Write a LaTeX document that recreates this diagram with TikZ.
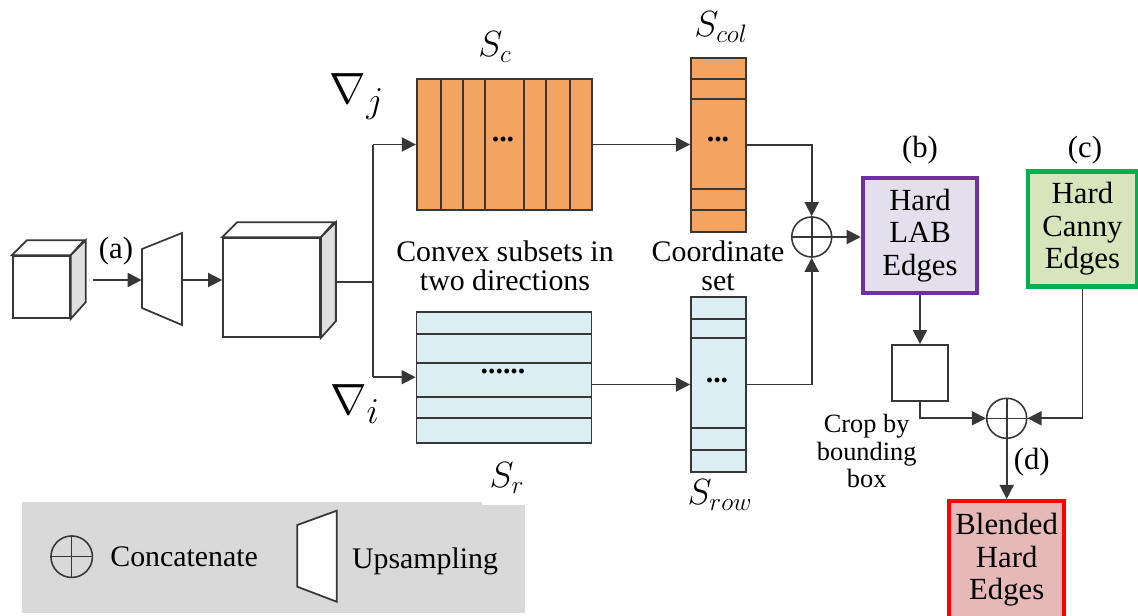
\documentclass[tikz,border=0pt]{standalone}
\usepackage{fontspec}
\setmainfont{LiberationSerif}[Extension=.ttf, UprightFont=*-Regular, BoldFont=*-Bold, ItalicFont=*-Italic, BoldItalicFont=*-BoldItalic]
\usetikzlibrary{arrows.meta}
\definecolor{orangefill}{RGB}{245,163,96}
\definecolor{bluefill}{RGB}{218,238,243}
\definecolor{labfill}{RGB}{228,223,236}
\definecolor{labborder}{RGB}{112,48,160}
\definecolor{cannyfill}{RGB}{216,228,188}
\definecolor{cannyborder}{RGB}{0,176,80}
\definecolor{blendfill}{RGB}{230,185,184}
\definecolor{blendborder}{RGB}{255,0,0}
\definecolor{legendgray}{RGB}{217,217,217}
\definecolor{sidegray}{RGB}{224,224,224}
\definecolor{linecol}{RGB}{55,55,55}
\begin{document}
\begin{tikzpicture}[x=0.02cm,y=-0.02cm,
  ln/.style={draw=linecol, line width=1pt},
  arr/.style={ln, -{Triangle[length=8pt,width=8pt]}},
  txt/.style={font=\fontsize{17}{16.5}\selectfont, align=center, inner sep=0pt},
  lbl/.style={font=\fontsize{17.5}{20}\selectfont, inner sep=0pt},
  mlbl/.style={font=\fontsize{22}{26}\selectfont, inner sep=0pt},
  nlbl/.style={font=\fontsize{28}{32}\selectfont, inner sep=0pt},
  blockbox/.style={draw=linecol, line width=1pt, inner sep=0pt},
  cbox/.style={line width=2.3pt, align=center, inner sep=0pt, font=\fontsize{17.5}{18.5}\selectfont},
  cplus/.style={circle, draw=linecol, line width=0.9pt, minimum size=0.8cm, inner sep=0pt},
  dots/.style={font=\fontsize{17}{20}\selectfont\bfseries, inner sep=0pt}
]
\useasboundingbox (0,0) rectangle (1138,615);

% ---------- small cube ----------
\node[blockbox, fill=white, minimum width=1.14cm, minimum height=1.24cm] (cs) at (41.35,287) {};
\draw[ln, fill=white] (cs.north west) -- ++(15,-15) -- ++(57.3,0) -- (cs.north east) -- cycle;
\draw[ln, fill=sidegray] (cs.north east) -- ++(15,-15) -- ++(0,62) -- (cs.south east) -- cycle;

% ---------- upsampling trapezoid ----------
\draw[ln, fill=white] (142,249) -- (182,233) -- (182,325) -- (142,308) -- cycle;
\node[minimum width=0.8cm, minimum height=1.1cm, inner sep=0pt] (up) at (162,280) {};

% ---------- big cube ----------
\node[blockbox, fill=white, minimum width=1.94cm, minimum height=1.98cm] (cb) at (271.5,287.5) {};
\draw[ln, fill=white] (cb.north west) -- ++(15,-15) -- ++(97,0) -- (cb.north east) -- cycle;
\draw[ln, fill=sidegray] (cb.north east) -- ++(15,-15) -- ++(0,99) -- (cb.south east) -- cycle;

\coordinate (a0) at (93,280);
\coordinate (cbR) at (335,282);
\coordinate (sp) at (373,282);

% ---------- S_c block ----------
\node[blockbox, fill=orangefill, minimum width=3.5cm, minimum height=2.62cm] (Sc) at (504.2,144.5) {};
\foreach \x in {440.7,462.7,485,524,546,570} \draw[ln] (\x,79) -- (\x,210);
\node[dots] (scdots) at (503,140) {...};

% ---------- S_r block ----------
\node[blockbox, fill=bluefill, minimum width=3.5cm, minimum height=2.62cm] (Sr) at (504,377.2) {};
\foreach \y in {334,363,397,418} \draw[ln] (416.7,\y) -- (591.3,\y);
\node[dots] (srdots) at (503,371) {......};

% ---------- S_col column ----------
\node[blockbox, fill=orangefill, minimum width=1.1cm, minimum height=3.48cm] (Scol) at (718.4,145) {};
\foreach \y in {79,99,189,210} \draw[ln] (690.9,\y) -- (745.9,\y);
\node[dots] (scoldots) at (718,140) {...};

% ---------- S_row column ----------
\node[blockbox, fill=bluefill, minimum width=1.1cm, minimum height=3.5cm] (Srow) at (718.4,384.5) {};
\foreach \y in {319,338,428,450} \draw[ln] (690.9,\y) -- (745.9,\y);
\node[dots] (srowdots) at (717,380) {...};

% ---------- concatenations ----------
\node[cplus] (c1) at (811.7,237) {};
\draw[draw=linecol, line width=0.9pt] (c1.north) -- (c1.south) (c1.west) -- (c1.east);
\node[cplus] (c2) at (1006.7,418.3) {};
\draw[draw=linecol, line width=0.9pt] (c2.north) -- (c2.south) (c2.west) -- (c2.east);

% ---------- coloured boxes ----------
\node[cbox, draw=labborder, fill=labfill, minimum width=2.29cm, minimum height=2.31cm] (lab) at (920,235.4) {Hard\\LAB\\Edges};
\node[cbox, draw=cannyborder, fill=cannyfill, minimum width=2.17cm, minimum height=2.3cm] (canny) at (1082.4,229) {Hard\\Canny\\Edges};
\node[blockbox, fill=white, minimum width=1.13cm, minimum height=1.12cm] (crop) at (920,373) {};
\node[cbox, draw=blendborder, fill=blendfill, minimum width=2.3cm, minimum height=2.36cm] (blend) at (1006.7,560) {Blended\\Hard\\Edges};

% ---------- connectors ----------
\draw[arr] (a0) -- (up.west);
\draw[arr] (up.east) -- (up.east -| cb.west);
\draw[ln] (cbR) -- (sp);
\draw[ln] (sp |- Sc.west) -- (sp |- Sr.west);
\draw[arr] (sp |- Sc.west) -- (Sc.west);
\draw[arr] (sp |- Sr.west) -- (Sr.west);
\draw[arr] (Sc.east) -- (Sc.east -| Scol.west);
\draw[arr] (Srow.west -| Sr.east) -- (Srow.west);
\draw[arr] (Scol.east) -| (c1.north);
\draw[arr] (Srow.east) -| (c1.south);
\draw[arr] (c1.east) -- (c1.east -| lab.west);
\draw[arr] (lab.south) -- (crop.north);
\draw[arr] (crop.south) |- (c2.west);
\draw[arr] (canny.south) |- (c2.east);
\draw[arr] (c2.south) -- (blend.north);

% ---------- labels ----------
\node[lbl] (la) at (116,251) {(a)};
\node[lbl] (lb) at (920,150) {(b)};
\node[lbl] (lc) at (1085,150) {(c)};
\node[lbl] (ld) at (1031.7,461.7) {(d)};
\node[mlbl] (lsc) at (495,47) {$S_c$};
\node[mlbl] (lscol) at (721,27) {$S_{col}$};
\node[mlbl] (lsrow) at (720,495) {$S_{row}$};
\node[nlbl] (lnj) at (357,97) {$\nabla_j$};
\node[nlbl] (lni) at (355,404) {$\nabla_i$};
\node[txt] (convex) at (505,265.5) {Convex subsets in\\two directions};
\node[txt] (coord) at (718,265.5) {Coordinate\\set};
\node[txt, font=\fontsize{15}{15.6}\selectfont] (crtxt) at (866.7,451) {Crop by\\bounding\\box};

% ---------- legend ----------
\fill[legendgray] (21.7,501.7) rectangle (525,613);
\fill[white] (481.7,494) rectangle (525,505);
\begin{scope}
  \clip (470,455) rectangle (526,500);
  \node[mlbl] (lsr) at (507,478) {$S_r$};
\end{scope}
\node[cplus, minimum size=0.83cm] (legc) at (71.7,556.7) {};
\draw[draw=linecol, line width=0.9pt] (legc.north) -- (legc.south) (legc.west) -- (legc.east);
\node[txt, anchor=west] (legct) at (110,556.7) {Concatenate};
\draw[ln, fill=white] (297.3,525) -- (336.7,510.7) -- (336.7,601.7) -- (297.3,586.7) -- cycle;
\node[txt, anchor=west] (legut) at (351.7,561.7) {Upsampling};
\end{tikzpicture}
\end{document}
